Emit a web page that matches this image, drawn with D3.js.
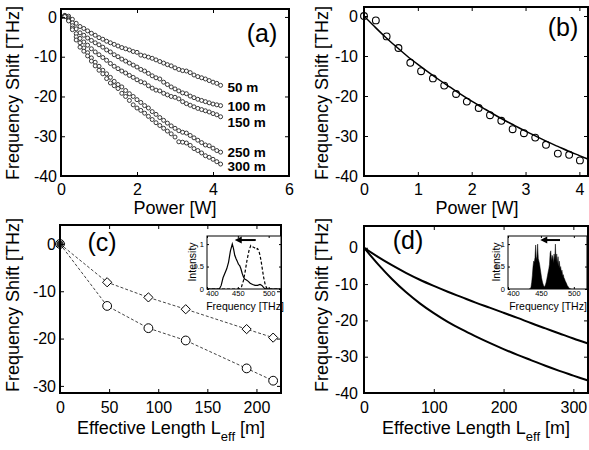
<!DOCTYPE html>
<html><head><meta charset="utf-8">
<script src="https://cdn.jsdelivr.net/npm/d3@7"></script>
<style>
body{margin:0;background:#fff;}
svg{display:block;font-family:"Liberation Sans",Arial,Helvetica,sans-serif;}
</style></head><body>
<svg id="chart" width="589" height="450"></svg>
<script>
// ---------------- DATA ----------------
// (a) frequency shift vs power for five fibre lengths
const powerA = [0,0.1,0.2,0.3,0.4,0.5,0.6,0.7,0.8,0.9,1.0,1.1,1.2,1.3,1.4,1.5,1.6,1.7,1.8,1.9,2.0,2.1,2.2,2.3,2.4,2.5,2.6,2.7,2.8,2.9,3.0,3.1,3.2,3.3,3.4,3.5,3.6,3.7,3.8,3.9,4.0,4.1,4.2];
const lengthsA = ["50 m","100 m","150 m","250 m","300 m"];
const shift50 = [0,0.4,0.2,-0.6,-1.6,-2.4,-2.9,-3.5,-4.1,-4.6,-5.2,-5.6,-6.1,-6.5,-6.9,-7.3,-7.7,-8.0,-8.3,-8.7,-8.9,-9.6,-9.8,-10.1,-10.4,-10.8,-11.2,-11.6,-12.0,-12.3,-12.8,-13.2,-13.5,-13.6,-14.0,-14.6,-15.0,-15.3,-15.6,-16.0,-16.4,-16.7,-17.2];
const shift100 = [0,0.3,-0.2,-1.5,-3.0,-4.0,-4.6,-5.3,-5.9,-6.5,-7.0,-7.6,-8.3,-8.8,-9.5,-10.0,-10.6,-11.1,-11.6,-12.1,-12.6,-13.2,-13.6,-14.2,-14.8,-15.3,-15.6,-16.4,-17.0,-17.6,-18.1,-18.6,-19.1,-19.3,-19.9,-20.3,-20.7,-21.0,-21.3,-21.6,-21.9,-22.1,-22.3];
const shift150 = [0,0.2,-0.5,-2.2,-4.2,-5.4,-6.3,-7.1,-8.0,-8.8,-9.5,-10.2,-10.9,-11.7,-12.4,-13.0,-13.6,-14.1,-14.7,-15.2,-15.8,-16.3,-16.6,-17.3,-17.9,-18.4,-18.6,-19.2,-19.6,-20.0,-20.2,-20.6,-21.3,-21.8,-22.2,-22.6,-23.0,-23.3,-23.6,-23.9,-24.3,-24.6,-25.1];
const shift250 = [0,0.1,-0.8,-2.8,-5.0,-6.5,-7.8,-9.0,-10.3,-11.4,-12.4,-13.4,-14.3,-15.2,-16.2,-17.0,-17.6,-18.5,-19.3,-20.0,-20.8,-21.5,-22.3,-22.9,-23.8,-24.5,-25.3,-26.0,-26.7,-27.4,-28.0,-28.6,-29.0,-29.2,-29.8,-30.4,-31.0,-31.6,-32.2,-32.4,-33.0,-33.6,-34.0];
const shift300 = [0,0.1,-1.0,-3.2,-5.8,-7.6,-8.6,-9.8,-11.1,-12.3,-13.4,-14.3,-15.5,-16.6,-17.3,-18.0,-19.2,-20.0,-21.0,-22.1,-22.9,-23.5,-24.2,-25.0,-25.8,-26.6,-27.3,-28.0,-28.7,-29.4,-30.2,-31.4,-31.5,-31.7,-32.3,-33.1,-33.6,-34.2,-34.9,-35.3,-35.8,-36.4,-37.0];
const labelYA = [-17.8,-22.6,-26.6,-34.2,-37.6];

// (b) measured points and fit
const powerB = [0,0.22,0.42,0.64,0.86,1.06,1.28,1.49,1.71,1.91,2.13,2.34,2.55,2.76,2.97,3.18,3.38,3.60,3.81,4.01];
const shiftB = [0,-1.1,-5.1,-8.0,-11.7,-13.8,-15.6,-17.4,-19.5,-21.4,-23.0,-24.8,-26.2,-28.3,-29.3,-30.4,-32.2,-34.4,-34.7,-36.1];
const fitPowerB = [0,0.2,0.4,0.6,0.8,1.0,1.2,1.4,1.6,1.8,2.0,2.2,2.4,2.6,2.8,3.0,3.2,3.4,3.6,3.8,4.0,4.2];
const fitShiftB = [0,-2.7,-5.3,-7.7,-10.0,-12.1,-14.1,-16.0,-17.8,-19.6,-21.3,-22.9,-24.5,-26.0,-27.4,-28.8,-30.1,-31.4,-32.6,-33.8,-34.9,-36.0];

// (c) shift vs effective length
const lengthC = [0,48,90,128,190,217];
const shiftDiamond = [0,-8.1,-11.3,-13.8,-18.0,-19.8];
const shiftCircle = [0,-13.1,-17.8,-20.4,-26.3,-28.9];
// (c) inset spectra
const freqSolid = [400,420,423,426,429,432,435,438,441,443,445,447,449,451,453,455,457,459,461,464,467,470,474,478,482,486,489,492,495,520];
const intSolid  = [0,0,0.08,0.25,0.35,0.45,0.6,0.85,1.0,0.9,0.75,0.68,0.62,0.55,0.52,0.45,0.35,0.27,0.22,0.2,0.17,0.13,0.1,0.08,0.08,0.1,0.08,0.03,0,0];
const freqDash = [400,452,456,459,462,465,468,471,474,477,480,482,484,486,488,490,492,494,496,498,520];
const intDash  = [0,0,0.05,0.18,0.4,0.65,0.85,0.97,0.94,0.92,0.88,0.9,0.85,0.75,0.6,0.42,0.25,0.12,0.04,0,0];

// (d) simulated shift vs effective length
const lengthD = [0,20,40,60,80,100,120,140,160,180,200,220,240,260,280,300,320];
const shiftUpper = [0,-2.5,-4.8,-6.9,-8.8,-10.5,-12.1,-13.6,-15.1,-16.5,-17.9,-19.3,-20.8,-22.2,-23.6,-25.0,-26.3];
const shiftLower = [0,-4.5,-8.6,-12.2,-15.3,-18.0,-20.4,-22.5,-24.4,-26.2,-27.9,-29.5,-31.0,-32.5,-33.9,-35.2,-36.5];
// (d) inset simulated spectrum
const freqD = [432,434,435,436,437,438,439,440,441,442,443,444,445,446,447,448,449,450,451,452,453,454,455,456,457,458,459,460,461,462,463,464,465,466,467,468,469,470,471,472,473,474,475,476,477,478,479,480,481,482,483,484,485,486,487,488,489,490,491,492,493,494,496];
const intD  = [0,0,0.05,0.15,0.3,0.5,0.62,0.6,0.7,0.98,0.65,0.72,1.0,0.68,0.62,0.55,0.45,0.35,0.25,0.18,0.12,0.08,0.05,0.06,0.1,0.15,0.22,0.3,0.38,0.45,0.55,0.8,0.85,0.62,0.75,0.7,0.58,0.78,0.65,1.0,0.6,0.78,0.55,0.72,0.5,0.62,0.45,0.5,0.38,0.42,0.3,0.32,0.25,0.22,0.18,0.15,0.12,0.08,0.06,0.04,0.02,0,0];

// tick values
const ticksAx = [0,2,4,6], ticksAy = [0,-10,-20,-30,-40];
const ticksBx = [0,1,2,3,4], ticksBy = [0,-10,-20,-30,-40];
const ticksCx = [0,50,100,150,200], ticksCy = [0,-10,-20,-30];
const ticksDx = [0,100,200,300], ticksDy = [0,-10,-20,-30,-40];
const ticksInX = [400,450,500], ticksInY = [0,0.5,1];
const tickLabInY = ["0","0.5","1"];

// ---------------- DRAW ----------------
const svg = d3.select("#chart");
const FONT = '"Liberation Sans",Arial,Helvetica,sans-serif';

const xA = d3.scaleLinear([0,6],[61,289]);
const yA = d3.scaleLinear([-40,2.0],[176,9]);
const xB = d3.scaleLinear([0,4.16],[364,588]);
const yB = d3.scaleLinear([-40,2.25],[176,7]);
const xC = d3.scaleLinear([0,225],[60,281]);
const yC = d3.scaleLinear([-31.5,4],[393,225]);
const xD = d3.scaleLinear([0,321],[364,588]);
const yD = d3.scaleLinear([-40,6],[393,226]);
const xIC = d3.scaleLinear([400,520],[207,281]);
const yIC = d3.scaleLinear([0,1.18],[289,236]);
const xID = d3.scaleLinear([400,520],[508,587]);
const yID = d3.scaleLinear([0,1.18],[289,236]);

function styleAxis(g, size){
  g.select(".domain").remove();
  g.selectAll("line").attr("stroke","#000").attr("stroke-width",1);
  g.selectAll("text").attr("font-size",size).attr("font-family",FONT).attr("fill","#000");
  g.attr("font-family",null).attr("font-size",null);
}

function frame(x, y, xt, yt, opt){
  const [x0,x1] = x.range(), [yb,yt0] = y.range();
  const fmt = opt.fmt || (d=>String(d));
  const g = svg.append("g");
  const bx = g.append("g").attr("transform",`translate(0,${yb})`)
    .call(d3.axisBottom(x).tickValues(xt).tickSize(-opt.tick).tickPadding(opt.padB).tickFormat(fmt))
    .call(a=>styleAxis(a,opt.fs));
  if (opt.firstDx) bx.selectAll("text").filter((d,i)=>i===0).attr("dx",opt.firstDx);
  g.append("g").attr("transform",`translate(0,${yt0})`)
    .call(d3.axisTop(x).tickValues(xt).tickSize(-opt.tick).tickFormat(""))
    .call(a=>styleAxis(a,opt.fs));
  g.append("g").attr("transform",`translate(${x0},0)`)
    .call(d3.axisLeft(y).tickValues(yt).tickSize(-opt.tick).tickPadding(opt.padL).tickFormat(opt.yfmt || fmt))
    .call(a=>styleAxis(a,opt.fs));
  g.append("g").attr("transform",`translate(${x1},0)`)
    .call(d3.axisRight(y).tickValues(yt).tickSize(-opt.tick).tickFormat(""))
    .call(a=>styleAxis(a,opt.fs));
  g.append("rect").attr("x",x0).attr("y",yt0).attr("width",x1-x0).attr("height",yb-yt0)
    .attr("fill","none").attr("stroke","#000").attr("stroke-width",opt.sw);
  return g;
}

function clip(id, x, y){
  const [x0,x1]=x.range(), [yb,yt]=y.range();
  svg.append("clipPath").attr("id",id).append("rect")
    .attr("x",x0).attr("y",yt).attr("width",x1-x0).attr("height",yb-yt);
  return `url(#${id})`;
}

function ylabel(cx, cy, txt){
  svg.append("text").attr("transform",`translate(${cx},${cy}) rotate(-90)`)
    .attr("text-anchor","middle").attr("dominant-baseline","central")
    .attr("font-size",18).text(txt);
}
function panelLetter(cx, cy, txt){
  svg.append("text").attr("x",cx).attr("y",cy).attr("text-anchor","middle")
    .attr("dominant-baseline","central").attr("font-size",25).text(txt);
}
function effLabel(cx, y){
  const t = svg.append("text").attr("x",cx).attr("y",y).attr("text-anchor","middle").attr("font-size",18);
  t.append("tspan").text("Effective Length L");
  t.append("tspan").attr("font-size",13).attr("dy",7).text("eff");
  t.append("tspan").attr("dy",-7).text(" [m]");
}

// ----- Panel (a)
const cpA = clip("cpA", xA, yA);
const seriesA = [shift50, shift100, shift150, shift250, shift300];
const gA = svg.append("g").attr("clip-path",cpA);
seriesA.forEach(s=>{
  gA.append("g").selectAll("circle").data(s).join("circle")
    .attr("cx",(d,i)=>xA(powerA[i])).attr("cy",d=>yA(d)).attr("r",2)
    .attr("fill","#fff").attr("stroke","#222").attr("stroke-width",0.9);
});
frame(xA, yA, ticksAx, ticksAy, {tick:4, padB:8, padL:4, fs:16, sw:2});
lengthsA.forEach((lab,i)=>{
  svg.append("text").attr("x",xA(powerA[powerA.length-1])+7).attr("y",yA(labelYA[i]))
    .attr("dominant-baseline","central").attr("font-weight","bold").attr("font-size",13.5).text(lab);
});
ylabel(13, 93, "Frequency Shift [THz]");
svg.append("text").attr("x",175).attr("y",214).attr("text-anchor","middle").attr("font-size",18).text("Power [W]");
panelLetter(262, 33, "(a)");

// ----- Panel (b)
const cpB = clip("cpB", xB, yB);
svg.append("path").attr("clip-path",cpB)
  .datum(fitPowerB.map((p,i)=>[p,fitShiftB[i]]))
  .attr("d", d3.line().x(d=>xB(d[0])).y(d=>yB(d[1])).curve(d3.curveMonotoneX))
  .attr("fill","none").attr("stroke","#000").attr("stroke-width",1.5);
svg.append("g").selectAll("circle").data(shiftB).join("circle")
  .attr("cx",(d,i)=>xB(powerB[i])).attr("cy",d=>yB(d)).attr("r",3.4)
  .attr("fill","none").attr("stroke","#000").attr("stroke-width",1.1);
frame(xB, yB, ticksBx, ticksBy, {tick:4, padB:8, padL:6, fs:16, sw:2});
ylabel(322, 93, "Frequency Shift [THz]");
svg.append("text").attr("x",477).attr("y",214).attr("text-anchor","middle").attr("font-size",18).text("Power [W]");
panelLetter(563, 27, "(b)");

// ----- Panel (c)
const lineC = d3.line().x((d,i)=>xC(lengthC[i])).y(d=>yC(d));
[shiftDiamond, shiftCircle].forEach(s=>{
  svg.append("path").datum(s).attr("d",lineC).attr("fill","none")
    .attr("stroke","#444").attr("stroke-width",1).attr("stroke-dasharray","3,2");
});
svg.append("g").selectAll("path").data(shiftDiamond).join("path")
  .attr("transform",(d,i)=>`translate(${xC(lengthC[i])},${yC(d)})`)
  .attr("d","M0,-4.6L4.6,0L0,4.6L-4.6,0Z")
  .attr("fill","#fff").attr("stroke","#000").attr("stroke-width",1);
svg.append("g").selectAll("circle").data(shiftCircle).join("circle")
  .attr("cx",(d,i)=>xC(lengthC[i])).attr("cy",d=>yC(d)).attr("r",4.4)
  .attr("fill","#fff").attr("stroke","#000").attr("stroke-width",1);
svg.append("circle").attr("cx",xC(lengthC[0])).attr("cy",yC(shiftCircle[0])).attr("r",3.5).attr("fill","#333");
frame(xC, yC, ticksCx, ticksCy, {tick:4, padB:9, padL:4, fs:16, sw:2});
ylabel(13, 305, "Frequency Shift [THz]");
effLabel(171, 434);
panelLetter(102, 242, "(c)");

// inset (c)
svg.append("rect").attr("x",207).attr("y",236).attr("width",74).attr("height",53).attr("fill","#fff");
const cpIC = clip("cpIC", xIC, yIC);
svg.append("path").attr("clip-path",cpIC).datum(intSolid)
  .attr("d", d3.line().x((d,i)=>xIC(freqSolid[i])).y(d=>yIC(d)))
  .attr("fill","none").attr("stroke","#000").attr("stroke-width",1.2);
svg.append("path").attr("clip-path",cpIC).datum(intDash)
  .attr("d", d3.line().x((d,i)=>xIC(freqDash[i])).y(d=>yIC(d)))
  .attr("fill","none").attr("stroke","#000").attr("stroke-width",1.2).attr("stroke-dasharray","3,2");
frame(xIC, yIC, ticksInX, ticksInY, {tick:2, padB:1.5, padL:3, fs:7.5, sw:1, firstDx:5, yfmt:(d,i)=>tickLabInY[i]});
function arrow(x, y, fFrom, fTo, level){
  const x1 = x(fFrom), x2 = x(fTo), yy = y(level);
  svg.append("line").attr("x1",x1).attr("x2",x2+5).attr("y1",yy).attr("y2",yy)
    .attr("stroke","#000").attr("stroke-width",2);
  svg.append("path").attr("d",`M${x2},${yy}l7,-3.5l0,7z`).attr("fill","#000");
}
arrow(xIC, yIC, 479, 445, 1.09);
svg.append("text").attr("transform","translate(192,262) rotate(-90)").attr("text-anchor","middle")
  .attr("dominant-baseline","central").attr("font-size",10.5).text("Intensity");
svg.append("text").attr("x",245).attr("y",310).attr("text-anchor","middle").attr("font-size",10.5).text("Frequency [THz]");

// ----- Panel (d)
const cpD = clip("cpD", xD, yD);
[shiftUpper, shiftLower].forEach(s=>{
  svg.append("path").attr("clip-path",cpD).datum(s)
    .attr("d", d3.line().x((d,i)=>xD(lengthD[i])).y(d=>yD(d)).curve(d3.curveMonotoneX))
    .attr("fill","none").attr("stroke","#000").attr("stroke-width",2);
});
frame(xD, yD, ticksDx, ticksDy, {tick:4, padB:9, padL:6, fs:16, sw:2});
ylabel(322, 305, "Frequency Shift [THz]");
effLabel(476, 434);
panelLetter(408, 240, "(d)");

// inset (d)
svg.append("rect").attr("x",508).attr("y",236).attr("width",79).attr("height",53).attr("fill","#fff");
const cpID = clip("cpID", xID, yID);
svg.append("path").attr("clip-path",cpID).datum(intD)
  .attr("d", d3.area().x((d,i)=>xID(freqD[i])).y0(yID(0)).y1(d=>yID(d)))
  .attr("fill","#000").attr("stroke","#000").attr("stroke-width",0.5);
frame(xID, yID, ticksInX, ticksInY, {tick:2, padB:1.5, padL:3, fs:7.5, sw:1, firstDx:5, yfmt:(d,i)=>tickLabInY[i]});
arrow(xID, yID, 479, 449, 1.09);
svg.append("text").attr("transform","translate(496,262) rotate(-90)").attr("text-anchor","middle")
  .attr("dominant-baseline","central").attr("font-size",10.5).text("Intensity");
svg.append("text").attr("x",548).attr("y",310).attr("text-anchor","middle").attr("font-size",10.5).text("Frequency [THz]");
</script>
</body></html>
